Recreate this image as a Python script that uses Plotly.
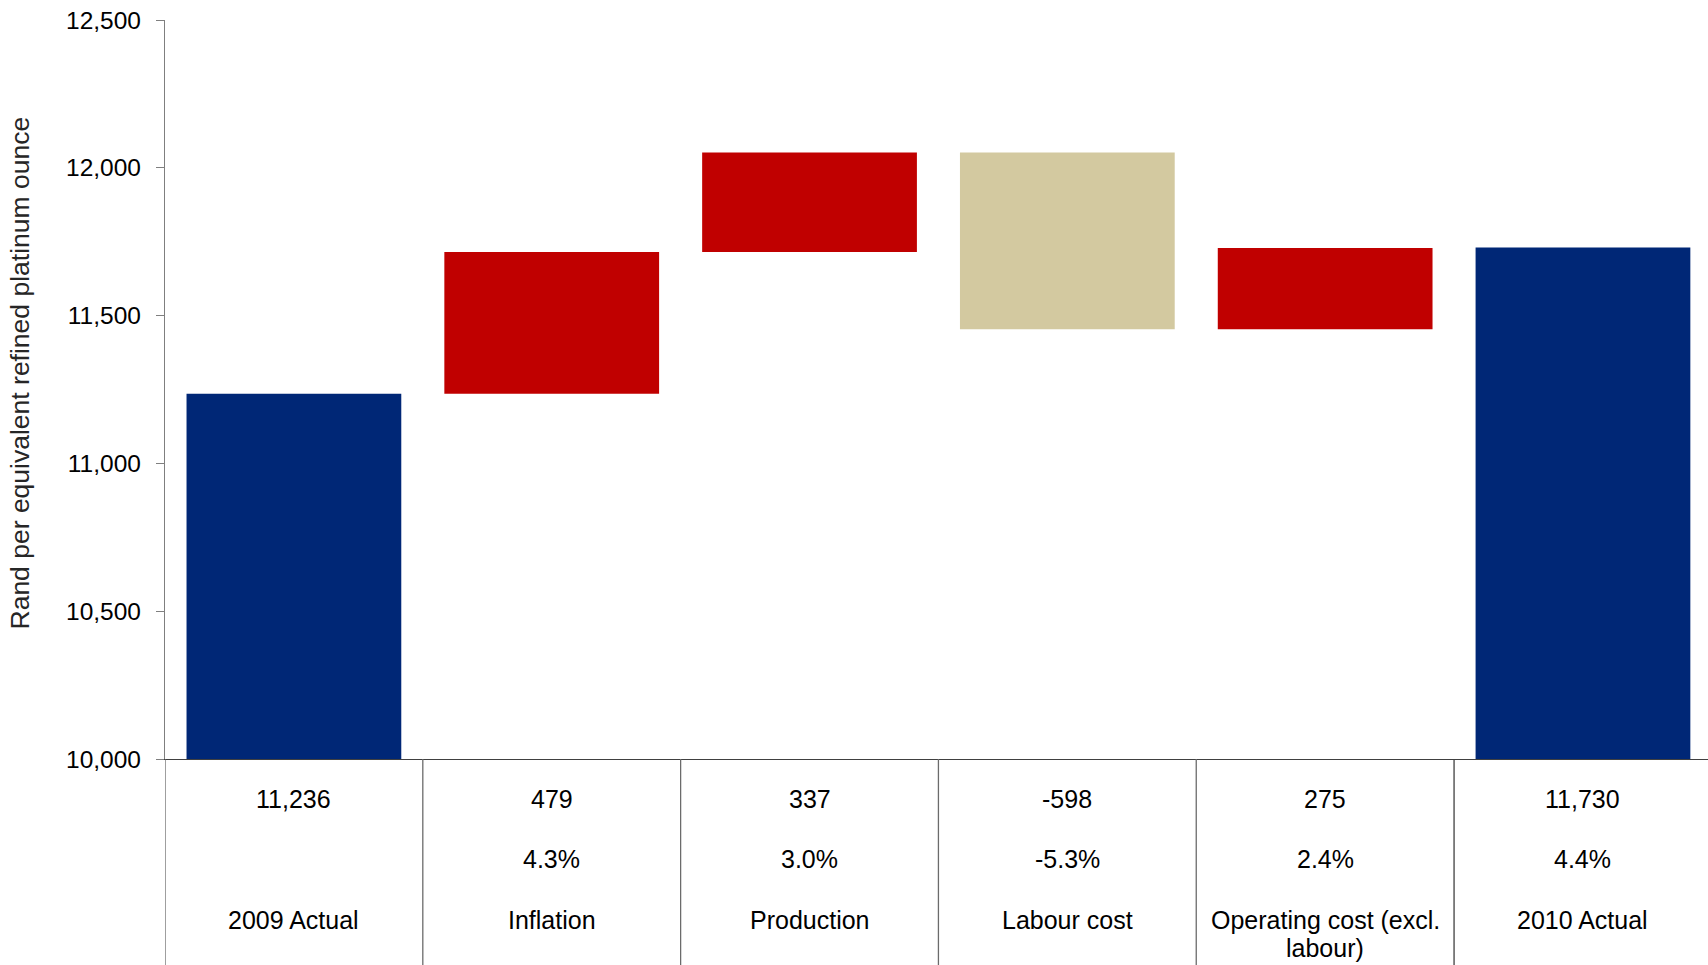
import plotly.graph_objects as go

# Cost per refined platinum ounce bridge, 2009 -> 2010
categories = ["2009 Actual", "Inflation", "Production", "Labour cost",
              "Operating cost (excl.<br>labour)", "2010 Actual"]
measures = ["absolute", "relative", "relative", "relative", "relative", "absolute"]
values = [11236, 479, 337, -598, 275, 11730]
pct_labels = ["", "4.3%", "3.0%", "-5.3%", "2.4%", "4.4%"]
y_ticks = [10000, 10500, 11000, 11500, 12000, 12500]
y_title = "Rand per equivalent refined platinum ounce"

NAVY = "#002776"
RED = "#C00000"
TAN = "#D3C9A0"
FONT = "Arial, Liberation Sans, sans-serif"

W, H = 1708, 965
M_L, M_R, M_T, M_B = 165, 0, 20, 206
plot_h = H - M_T - M_B

fig = go.Figure(go.Waterfall(
    x=list(range(len(categories))),
    measure=measures,
    y=values,
    increasing=dict(marker=dict(color=RED)),
    decreasing=dict(marker=dict(color=TAN)),
    totals=dict(marker=dict(color=NAVY)),
    connector=dict(visible=False),
    showlegend=False,
))

# Table beneath the axis: value, percentage change, category name
row_shift = {"value": -40, "pct": -100, "label": -161}
line_gap = 28
annotations = []
for i, (cat, v, p) in enumerate(zip(categories, values, pct_labels)):
    annotations.append(dict(x=i, y=0, xref="x", yref="paper", yshift=row_shift["value"],
                            text=f"{v:,}", showarrow=False, yanchor="middle",
                            font=dict(size=25, color="#000", family=FONT)))
    if p:
        annotations.append(dict(x=i, y=0, xref="x", yref="paper", yshift=row_shift["pct"],
                                text=p, showarrow=False, yanchor="middle",
                                font=dict(size=25, color="#000", family=FONT)))
    for k, line in enumerate(cat.split("<br>")):
        annotations.append(dict(x=i, y=0, xref="x", yref="paper",
                                yshift=row_shift["label"] - k * line_gap,
                                text=line, showarrow=False, yanchor="middle",
                                font=dict(size=25, color="#000", family=FONT)))

# Vertical axis title, placed slightly above the plot centre
annotations.append(dict(x=0, y=0.5, xref="paper", yref="paper",
                        xshift=-146, yshift=16, textangle=-90,
                        text=y_title, showarrow=False,
                        xanchor="center", yanchor="middle",
                        font=dict(size=26.5, color="#262626", family=FONT)))

# Column separators running from the axis to the bottom edge
shapes = []
for i in range(len(categories) - 1):
    shapes.append(dict(type="line", xref="x", yref="paper",
                       x0=i - 0.5, x1=i - 0.5, y0=0, y1=-M_B / plot_h,
                       line=dict(color="#6b6b6b", width=1.3)))
shapes.append(dict(type="line", xref="x", yref="paper",
                   x0=len(categories) - 1.5, x1=len(categories) - 1.5,
                   y0=0, y1=-M_B / plot_h, line=dict(color="#404040", width=1.3)))

fig.update_layout(
    width=W, height=H,
    margin=dict(l=M_L, r=M_R, t=M_T, b=M_B),
    paper_bgcolor="white", plot_bgcolor="white",
    waterfallgap=0.167,
    font=dict(family=FONT, color="#000"),
    annotations=annotations,
    shapes=shapes,
    xaxis=dict(range=[-0.5, len(categories) - 0.515], showticklabels=False,
               showline=True, linecolor="#404040", linewidth=1.3,
               showgrid=False, zeroline=False, ticks=""),
    yaxis=dict(range=[10000, 12500], tickvals=y_ticks, tickformat=",",
               showline=True, linecolor="#7f7f7f", linewidth=1.3,
               ticks="outside", ticklen=8, tickcolor="#7f7f7f", tickwidth=1.3,
               ticklabelstandoff=10,
               showgrid=False, zeroline=False,
               tickfont=dict(size=24.5, color="#000", family=FONT)),
)

fig.write_html("out.html")
